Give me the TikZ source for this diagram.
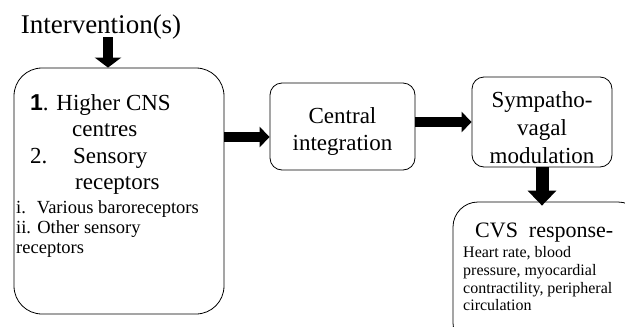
\documentclass[tikz,border=0pt]{standalone}
\usepackage{fontspec}
\setmainfont{Liberation Serif}
\newfontfamily\numfont{Liberation Sans}
\usetikzlibrary{arrows.meta,positioning}
\tikzset{
	block/.style={draw, thick, rounded corners=12pt},
	flow/.style={line width=9.5pt, -{Triangle[width=20pt,length=10pt]}},
	big/.style={font=\fontsize{23}{27}\selectfont, inner sep=0pt},
	small/.style={font=\fontsize{18.5}{21}\selectfont, inner sep=0pt},
	note/.style={font=\fontsize{16}{18}\selectfont, inner sep=0pt}
}
\begin{document}
\begin{tikzpicture}[x=1pt,y=-1pt]
		\useasboundingbox (0,0) rectangle (625,327);
		\node[font=\fontsize{27}{32}\selectfont] (interv) at (101,27) {Intervention(s)};
		\coordinate (A0) at (108,37);
		% boxes
		\node[block, rounded corners=28pt, minimum width=210pt, minimum height=246pt] (sens) at (119,191) {};
		\node[block, minimum width=145pt, minimum height=87pt] (integ) at (342.5,126.5) {};
		\node[block, minimum width=140pt, minimum height=90pt] (symp) at (542,122) {};
		\node[block, rounded corners=25pt, minimum width=190pt, minimum height=146pt] (cvs) at (548,275) {};
		% text of the middle boxes
		\node[big, align=center, yshift=-5pt] (integtxt) at (integ) {Central\\integration};
		\node[big, align=center, font=\fontsize{23}{28}\selectfont, yshift=-6pt] (symptxt) at (symp) {Sympatho-\\vagal\\modulation};
		% text of the left box
		\node[big, anchor=base west] (l1) at (30,110) {{\numfont\bfseries 1}. Higher CNS};
		\node[big, anchor=base west] (l2) at (72,136) {centres};
		\node[big, anchor=base west] (l3) at (30,163) {2.};
		\node[big, anchor=base west] (l4) at (73,163) {Sensory};
		\node[big, anchor=base west] (l5) at (75,189) {receptors};
		\node[small, anchor=base west] (l6) at (16,213) {i.\hspace{11pt}Various baroreceptors};
		\node[small, anchor=base west] (l7) at (16,233) {ii. Other sensory};
		\node[small, anchor=base west] (l8) at (16,253) {receptors};
		% text of the CVS box
		\node[font=\fontsize{22}{25}\selectfont, inner sep=0pt, anchor=base west] (c1) at (475,237) {CVS\ \ response-};
		\node[note, anchor=base west] (c2) at (463,257) {Heart rate, blood};
		\node[note, anchor=base west] (c3) at (463,275) {pressure, myocardial};
		\node[note, anchor=base west] (c4) at (463,293) {contractility, peripheral};
		\node[note, anchor=base west] (c5) at (463,310) {circulation};
		% arrows
		\draw[flow, line width=10pt, -{Triangle[width=26pt,length=10pt]}] (A0) -- (A0 |- sens.north);
		\draw[flow] ([yshift=54pt]sens.east) -- ([yshift=-10.5pt]integ.west);
		\draw[flow] ([yshift=4.5pt]integ.east) -- (symp.west);
		\draw[flow, line width=13pt, -{Triangle[width=28pt,length=15pt]}] (symp.south) -- ([yshift=-4pt]symp.south |- cvs.north);
		\end{tikzpicture}
\end{document}
